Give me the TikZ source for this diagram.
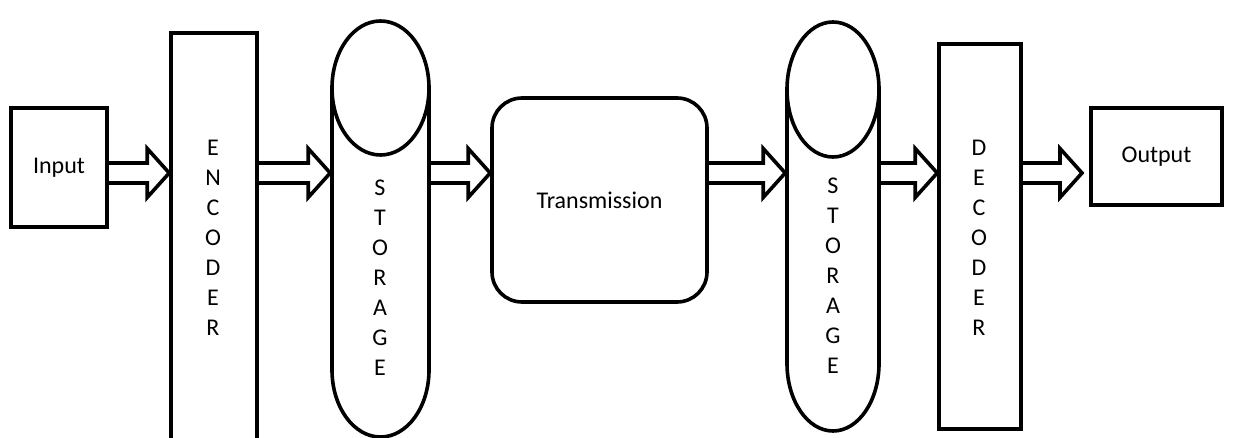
\documentclass[tikz,border=0pt]{standalone}
\usepackage{fontspec}
\setmainfont{Carlito}
\usetikzlibrary{calc}
\begin{document}
\begin{tikzpicture}[x=1pt,y=-1pt,line width=3.6pt,
  box/.style={draw,line width=3.6pt,inner sep=0pt,font=\fontsize{24}{30}\selectfont},
  frame/.style={draw=none,inner sep=0pt},
  vtext/.style={inner sep=0pt,align=center,font=\fontsize{24}{30}\selectfont},
  blockarrow/.style={draw,line width=3.6pt,miter limit=10,line join=miter}]
\useasboundingbox (0,0) rectangle (1253,438);
\clip (0,0) rectangle (1253,438);
\coordinate (ay) at (0,173);
\newcommand{\barrow}[2]{%
  \draw[blockarrow] let \p1=(#1.east |- ay), \p2=(#2.west |- ay) in
    (\x1,\y1+10pt) -- (\x2-22pt,\y1+10pt) -- (\x2-22pt,\y1+24.5pt) -- (\x2,\y1)
    -- (\x2-22pt,\y1-24.5pt) -- (\x2-22pt,\y1-10pt) -- (\x1,\y1-10pt);}
\newcommand{\storageshape}[5]{% cx, top, bottom, rx, ry
  \draw (#1,#2+#5) ellipse [x radius=#4pt, y radius=#5pt];
  \draw (#1-#4,#2+#5) -- (#1-#4,#3-#5) arc[start angle=180,end angle=360,x radius=#4pt,y radius=#5pt] -- (#1+#4,#2+#5);}
% nodes
\node[box,minimum width=96pt,minimum height=119pt] (input) at (59,167.5) {Input};
\node[box,minimum width=86pt,minimum height=430pt] (enc) at (214,248) {};
\node[vtext] (enct) at (213,237.5) {E\\N\\C\\O\\D\\E\\R};
\node[frame,minimum width=97pt,minimum height=416pt] (st1) at (380.5,229) {};
\storageshape{380.5}{21}{437}{48.5}{67}
\node[vtext] (st1t) at (380,277.5) {S\\T\\O\\R\\A\\G\\E};
\node[box,rounded corners=30pt,minimum width=215pt,minimum height=204pt] (tr) at (599.5,200) {Transmission};
\node[frame,minimum width=92pt,minimum height=409pt] (st2) at (833,226.5) {};
\storageshape{833}{22}{431}{46}{67.5}
\node[vtext] (st2t) at (833,276) {S\\T\\O\\R\\A\\G\\E};
\node[box,minimum width=82pt,minimum height=385pt] (dec) at (980,236.5) {};
\node[vtext] (dect) at (979,238) {D\\E\\C\\O\\D\\E\\R};
\node[box,minimum width=131pt,minimum height=97pt] (output) at (1156.5,156.5) {Output};
\coordinate (outtip) at (1082,173);
% connectors
\barrow{input}{enc}
\barrow{enc}{st1}
\barrow{st1}{tr}
\barrow{tr}{st2}
\barrow{st2}{dec}
\draw[blockarrow] let \p1=(dec.east |- ay), \p2=(outtip) in
    (\x1,\y1+10pt) -- (\x2-22pt,\y1+10pt) -- (\x2-22pt,\y1+24.5pt) -- (\x2,\y1)
    -- (\x2-22pt,\y1-24.5pt) -- (\x2-22pt,\y1-10pt) -- (\x1,\y1-10pt);
\end{tikzpicture}
\end{document}
